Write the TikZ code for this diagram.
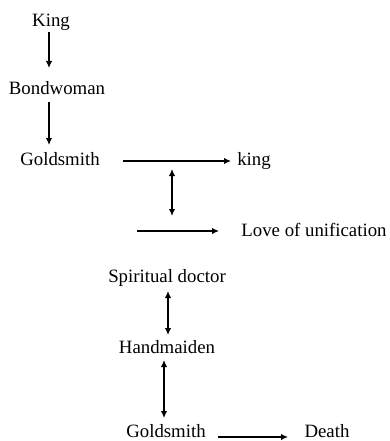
\documentclass[tikz,border=0pt]{standalone}
\usepackage{fontspec}
\setmainfont{Liberation Serif}
\usetikzlibrary{arrows.meta}
\begin{document}
\begin{tikzpicture}[x=1pt,y=-1pt,
  lbl/.style={anchor=base,inner sep=0pt,font=\fontsize{18.8}{20}\selectfont},
  arr/.style={line width=1.4pt,-{Latex[length=7pt,width=6.5pt]}},
  darr/.style={line width=1.4pt,{Latex[length=7pt,width=6.5pt]}-{Latex[length=7pt,width=6.5pt]}}]
\useasboundingbox (0,0) rectangle (390,441);
\node[lbl] (king) at (51,27) {King};
\node[lbl] (bond) at (57,95) {Bondwoman};
\node[lbl] (gold1) at (60,165) {Goldsmith};
\node[lbl] (king2) at (254,165) {king};
\node[lbl] (love) at (314,236) {Love of unification};
\node[lbl] (spirit) at (167,282) {Spiritual doctor};
\node[lbl] (hand) at (167,353) {Handmaiden};
\node[lbl] (gold2) at (166,437.5) {Goldsmith};
\node[lbl] (death) at (327,437.5) {Death};
% arrows
\coordinate (a1s) at (49,32); \coordinate (a1e) at (49,68);
\coordinate (a2s) at (49,102); \coordinate (a2e) at (49,145);
\draw[arr] (a1s) -- (a1e);
\draw[arr] (a2s) -- (a2e);
\coordinate (h1s) at (123,161); \coordinate (h1e) at (231,161);
\draw[arr] (h1s) -- (h1e);
\coordinate (v1s) at (172,169); \coordinate (v1e) at (172,216);
\draw[darr] (v1s) -- (v1e);
\coordinate (h2s) at (137,231); \coordinate (h2e) at (219,231);
\draw[arr] (h2s) -- (h2e);
\coordinate (v2s) at (168,291); \coordinate (v2e) at (168,335);
\draw[darr] (v2s) -- (v2e);
\coordinate (v3s) at (164,360); \coordinate (v3e) at (164,418);
\draw[darr] (v3s) -- (v3e);
\coordinate (h3s) at (218,437) ; \coordinate (h3e) at (288,437);
\draw[arr] (h3s) -- (h3e);
\end{tikzpicture}
\end{document}
